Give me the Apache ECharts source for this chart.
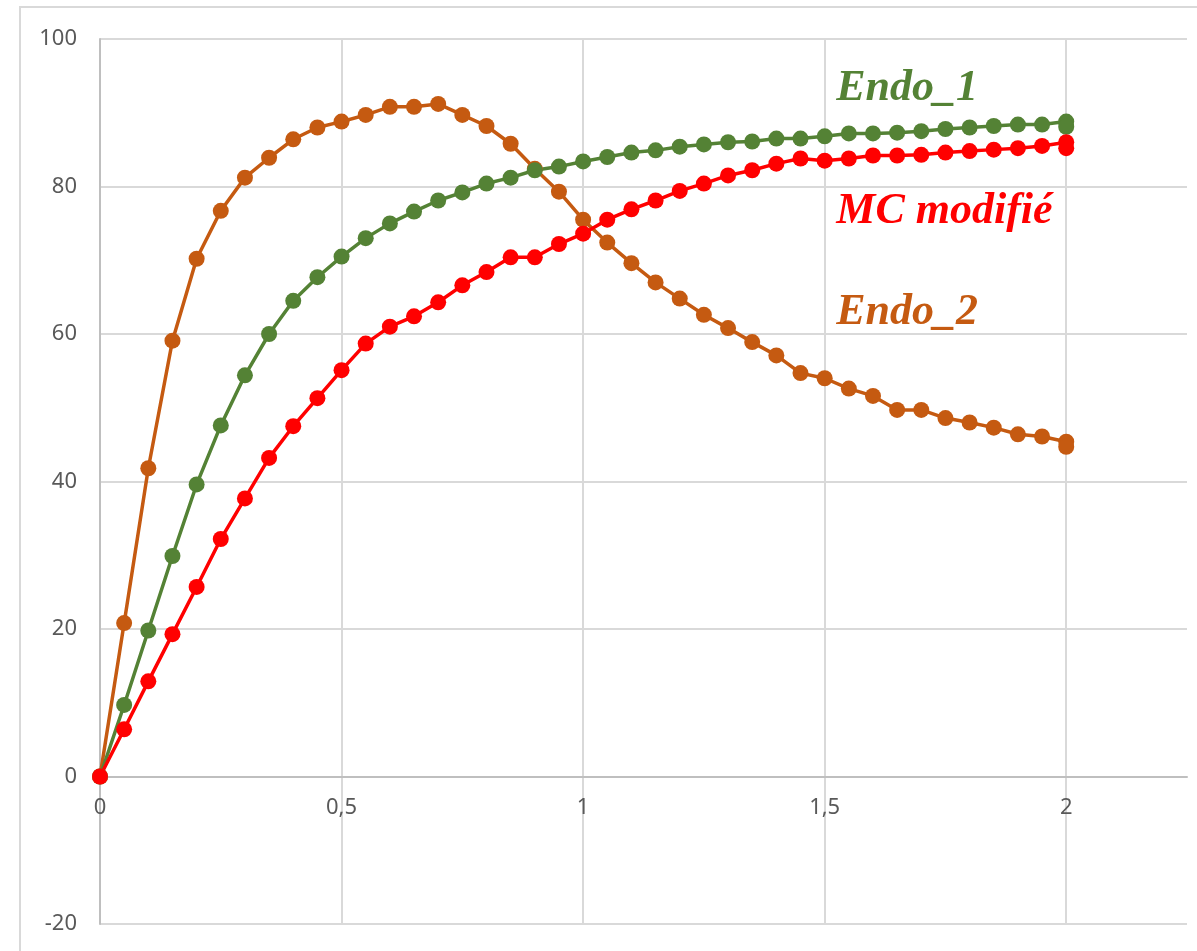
<!DOCTYPE html>
<html>
<head>
<meta charset="utf-8">
<script src="https://cdn.jsdelivr.net/npm/echarts@6/dist/echarts.min.js"></script>
<style>
  html, body { margin: 0; padding: 0; background: #ffffff; }
  #chart { width: 1197px; height: 951px; }
</style>
</head>
<body>
<div id="chart"></div>
<script>
// Abscissa of every sample (the last sample at 2 is recorded twice)
const xValues = [
  0, 0.05, 0.1, 0.15, 0.2, 0.25, 0.3, 0.35, 0.4, 0.45,
  0.5, 0.55, 0.6, 0.65, 0.7, 0.75, 0.8, 0.85, 0.9, 0.95,
  1, 1.05, 1.1, 1.15, 1.2, 1.25, 1.3, 1.35, 1.4, 1.45,
  1.5, 1.55, 1.6, 1.65, 1.7, 1.75, 1.8, 1.85, 1.9, 1.95,
  2, 2
];

const endo2 = [
  0, 20.8, 41.8, 59.1, 70.2, 76.7, 81.2, 83.9, 86.4, 88.0,
  88.8, 89.7, 90.8, 90.8, 91.2, 89.7, 88.2, 85.8, 82.4, 79.3,
  75.5, 72.4, 69.6, 67.0, 64.8, 62.6, 60.8, 58.9, 57.1, 54.7,
  54.0, 52.6, 51.6, 49.7, 49.7, 48.6, 48.0, 47.3, 46.4, 46.1,
  45.4, 44.7
];

const endo1 = [
  0, 9.7, 19.8, 29.9, 39.6, 47.6, 54.4, 60.0, 64.5, 67.7,
  70.5, 73.0, 75.0, 76.6, 78.1, 79.2, 80.4, 81.2, 82.2, 82.7,
  83.4, 84.0, 84.6, 84.9, 85.4, 85.7, 86.0, 86.1, 86.5, 86.5,
  86.8, 87.2, 87.2, 87.3, 87.5, 87.8, 88.0, 88.2, 88.4, 88.4,
  88.8, 88.1
];

const mcModifie = [
  0, 6.4, 12.9, 19.3, 25.7, 32.2, 37.7, 43.2, 47.5, 51.3,
  55.1, 58.7, 61.0, 62.4, 64.3, 66.6, 68.4, 70.4, 70.4, 72.2,
  73.6, 75.5, 76.9, 78.1, 79.4, 80.4, 81.5, 82.2, 83.1, 83.8,
  83.5, 83.8, 84.2, 84.2, 84.3, 84.6, 84.8, 85.0, 85.2, 85.5,
  86.0, 85.2
];

const seriesNames = ['Endo_2', 'Endo_1', 'MC modifié'];
const xTickLabels = ['0', '0,5', '1', '1,5', '2'];
const yTickLabels = ['-20', '0', '20', '40', '60', '80', '100'];

const COLORS = { 'Endo_2': '#C55A11', 'Endo_1': '#548235', 'MC modifié': '#FF0000' };

// Anchor (in data units) of each in-plot series caption
const captionAnchors = {
  'Endo_1': [1.524, 93.3],
  'MC modifié': [1.524, 76.6],
  'Endo_2': [1.524, 62.9]
};

const Y_MIN = -20, Y_MAX = 100;
const GRID = { left: 100, right: 10, top: 39, bottom: 27 };
const CHART_H = 951;

function pairs(ys) {
  return ys.map((y, i) => [xValues[i], y]);
}

const chart = echarts.init(document.getElementById('chart'), null, { renderer: 'canvas' });

const gridColor = '#d9d9d9';
const axisColor = '#bfbfbf';
const labelColor = '#595959';
const labelFont = 'Noto Sans';

// Shift the x axis (line and labels) from the bottom edge up to the zero level
const plotH = CHART_H - GRID.top - GRID.bottom;
const zeroOffset = -plotH * (0 - Y_MIN) / (Y_MAX - Y_MIN);

function makeSeries(name, ys) {
  return {
    name: name,
    type: 'line',
    data: pairs(ys),
    symbol: 'circle',
    symbolSize: 16,
    showAllSymbol: true,
    lineStyle: { color: COLORS[name], width: 3.5 },
    itemStyle: { color: COLORS[name] },
    emphasis: { disabled: true },
    animation: false,
    markPoint: {
      silent: true,
      animation: false,
      symbol: 'circle',
      symbolSize: 0,
      data: [{
        coord: captionAnchors[name],
        label: {
          show: true,
          position: 'right',
          distance: 0,
          formatter: name,
          color: COLORS[name],
          fontFamily: 'Liberation Serif',
          fontStyle: 'italic',
          fontWeight: 'bold',
          fontSize: 44
        }
      }]
    }
  };
}

chart.setOption({
  backgroundColor: '#ffffff',
  animation: false,
  grid: Object.assign({ containLabel: false, outerBoundsMode: 'none' }, GRID),
  xAxis: {
    type: 'value',
    position: 'bottom',
    offset: zeroOffset,
    min: 0,
    max: 2.25,
    interval: 0.5,
    axisLine: { show: true, onZero: false, lineStyle: { color: axisColor, width: 2 } },
    axisTick: { show: false },
    splitLine: { show: true, showMinLine: false, showMaxLine: false, lineStyle: { color: gridColor, width: 2 } },
    axisLabel: {
      color: labelColor,
      fontFamily: labelFont,
      fontSize: 22,
      margin: 20,
      showMaxLabel: false,
      formatter: function (v) {
        const idx = Math.round(v / 0.5);
        return Math.abs(idx * 0.5 - v) < 1e-6 && idx < xTickLabels.length ? xTickLabels[idx] : '';
      }
    }
  },
  yAxis: {
    type: 'value',
    min: Y_MIN,
    max: Y_MAX,
    interval: 20,
    axisLine: { show: true, onZero: false, lineStyle: { color: axisColor, width: 2 } },
    axisTick: { show: false },
    splitLine: { show: true, lineStyle: { color: gridColor, width: 2 } },
    axisLabel: {
      color: labelColor,
      fontFamily: labelFont,
      fontSize: 22,
      margin: 23,
      formatter: function (v) {
        const idx = Math.round((v - Y_MIN) / 20);
        return yTickLabels[idx] !== undefined ? yTickLabels[idx] : '';
      }
    }
  },
  graphic: [{
    type: 'rect',
    silent: true,
    z: -1,
    shape: { x: 20, y: 7, width: 1250, height: 1000 },
    style: { fill: 'none', stroke: '#d9d9d9', lineWidth: 2 }
  }],
  series: [
    makeSeries(seriesNames[0], endo2),
    makeSeries(seriesNames[1], endo1),
    makeSeries(seriesNames[2], mcModifie)
  ]
});
</script>
</body>
</html>
